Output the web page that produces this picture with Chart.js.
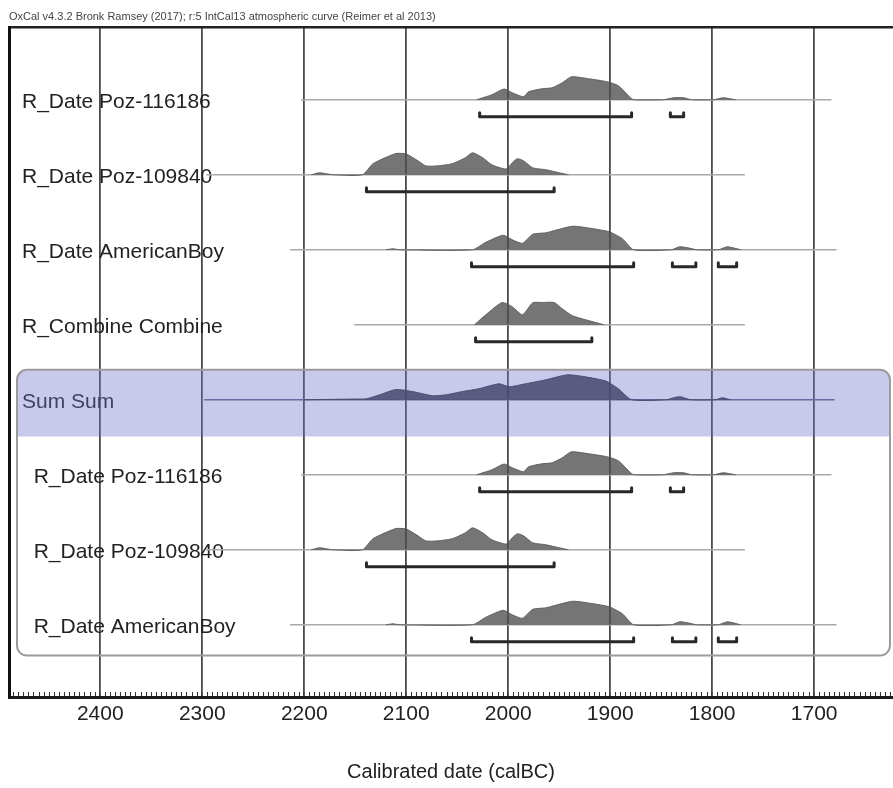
<!DOCTYPE html>
<html><head><meta charset="utf-8">
<script src="https://cdn.jsdelivr.net/npm/chart.js@4.4.0/dist/chart.umd.min.js"></script>
<style>html,body{margin:0;padding:0;background:#fff;overflow:hidden}#wrap{width:893px;height:788px}</style>
</head><body><div id="wrap"><canvas id="c" width="893" height="788"></canvas></div>
<script>
// ---------- text ----------
const headerText = 'OxCal v4.3.2 Bronk Ramsey (2017); r:5 IntCal13 atmospheric curve (Reimer et al 2013)';
const axisTitle = 'Calibrated date (calBC)';
const rowLabels = ['R_Date Poz-116186','R_Date Poz-109840','R_Date AmericanBoy','R_Combine Combine','Sum Sum','R_Date Poz-116186','R_Date Poz-109840','R_Date AmericanBoy'];
const rowInGroup = [false,false,false,false,false,true,true,true];
const tickYears = [2400,2300,2200,2100,2000,1900,1800,1700];

// ---------- data (years calBC, relative probability) ----------
const pozA_years = [2031,2016,2004,1996,1985,1980,1967,1957,1947,1938,1921,1903,1892,1880,1877,1848,1838,1828,1820,1799,1789,1777];
const pozA_prob  = [0,0.2,0.43,0.28,0.12,0.32,0.44,0.48,0.68,0.92,0.84,0.72,0.56,0.08,0,0,0.08,0.08,0,0,0.08,0];
const pozA_extent = [2203,1683];
const pozA_ranges = [[2028,1879],[1841,1828]];

const pozB_years = [2193,2185,2172,2143,2133,2123,2110,2100,2090,2081,2071,2055,2042,2035,2025,2016,2002,1996,1991,1985,1976,1963,1950,1941];
const pozB_prob  = [0,0.08,0,0,0.43,0.64,0.85,0.83,0.6,0.36,0.35,0.44,0.68,0.88,0.68,0.4,0.23,0.48,0.64,0.56,0.28,0.2,0.08,0];
const pozB_extent = [2296,1768];
const pozB_ranges = [[2139,1955]];

const amb_years = [2120,2113,2107,2035,2022,2005,1996,1986,1976,1963,1937,1918,1901,1888,1877,1840,1832,1824,1815,1794,1785,1772];
const amb_prob  = [0,0.04,0,0,0.3,0.58,0.4,0.26,0.62,0.68,0.94,0.85,0.72,0.44,0,0,0.12,0.08,0,0,0.12,0];
const amb_extent = [2214,1678];
const amb_ranges = [[2036,1877],[1839,1816],[1794,1776]];

const comb_years = [2033,2022,2006,1996,1986,1976,1967,1955,1947,1937,1924,1906];
const comb_prob  = [0,0.4,0.89,0.72,0.4,0.88,0.89,0.89,0.64,0.36,0.2,0];
const comb_extent = [2151,1768];
const comb_ranges = [[2032,1918]];

const sum_years = [2200,2150,2139,2126,2110,2094,2074,2061,2045,2029,2009,1999,1983,1963,1941,1905,1892,1879,1845,1836,1831,1821,1797,1790,1782];
const sum_prob  = [0,0.03,0.04,0.2,0.41,0.33,0.16,0.2,0.33,0.44,0.64,0.52,0.64,0.8,1.0,0.76,0.44,0,0,0.1,0.12,0,0,0.08,0];
const sum_extent = [2298,1680];
const sum_ranges = [];

const rowData = [
  [pozA_years,pozA_prob,pozA_extent,pozA_ranges],
  [pozB_years,pozB_prob,pozB_extent,pozB_ranges],
  [amb_years,amb_prob,amb_extent,amb_ranges],
  [comb_years,comb_prob,comb_extent,comb_ranges],
  [sum_years,sum_prob,sum_extent,sum_ranges],
  [pozA_years,pozA_prob,pozA_extent,pozA_ranges],
  [pozB_years,pozB_prob,pozB_extent,pozB_ranges],
  [amb_years,amb_prob,amb_extent,amb_ranges]
];
const SUM_ROW = 4;

// ---------- layout constants ----------
const X_OLD = 2489.5, X_NEW = 1622.7;
const Y_MAX = 8.933;
const BASE_OFF = 0.97, PEAK = 1/3, BAR = 0.227, CAP = 0.053;
const base = i => i + BASE_OFF;
const FONT = "'Liberation Sans',Arial,sans-serif";

const datasets = [];
rowData.forEach(([yrs, pr, ext, rng], i) => {
  const b = base(i);
  const isSum = i === SUM_ROW;
  datasets.push({
    data: [{x: ext[0], y: b}, {x: ext[1], y: b}],
    borderColor: isSum ? '#6a6aa0' : '#a9a9a9', borderWidth: 1.6,
    pointRadius: 0, fill: false, order: 3
  });
  datasets.push({
    data: yrs.map((y, k) => ({x: y, y: b - pr[k] * PEAK})),
    fill: {value: b},
    backgroundColor: isSum ? 'rgba(72,72,110,0.85)' : 'rgba(78,78,78,0.78)',
    borderColor: isSum ? 'rgba(72,72,110,0.9)' : 'rgba(90,90,90,0.9)',
    borderWidth: 1, pointRadius: 0, tension: 0.2, order: 2
  });
  if (rng.length) {
    const d = [];
    rng.forEach(([a, c]) => {
      d.push({x: a, y: b + BAR - CAP}, {x: a, y: b + BAR}, {x: c, y: b + BAR}, {x: c, y: b + BAR - CAP}, {x: c, y: null});
    });
    datasets.push({
      data: d, borderColor: '#282828', borderWidth: 3, pointRadius: 0,
      spanGaps: false, tension: 0, fill: false,
      borderCapStyle: 'round', borderJoinStyle: 'round', order: 1
    });
  }
});

const isMajor = v => tickYears.includes(Math.round(v)) && Math.abs(v - Math.round(v)) < 1e-6;

const groupBox = {
  id: 'groupBox',
  beforeDatasetsDraw(chart) {
    const {ctx, chartArea: a, scales: {y}} = chart;
    const top = y.getPixelForValue(base(SUM_ROW) - 0.4);
    const hdr = y.getPixelForValue(base(SUM_ROW) + 0.49);
    const bot = y.getPixelForValue(base(7) + 0.41);
    const l = a.left + 8, r = a.right - 3;
    ctx.save();
    ctx.fillStyle = 'rgba(112,112,205,0.38)';
    ctx.beginPath(); ctx.roundRect(l, top, r - l, hdr - top, [10, 10, 0, 0]); ctx.fill();
    ctx.strokeStyle = '#9c9c9c'; ctx.lineWidth = 2;
    ctx.beginPath(); ctx.roundRect(l, top, r - l, bot - top, 10); ctx.stroke();
    ctx.restore();
  }
};

const noSidePad = s => { s.paddingLeft = 0; s.paddingRight = 0; };

new Chart(document.getElementById('c'), {
  type: 'line',
  data: {datasets},
  plugins: [groupBox],
  options: {
    responsive: false, animation: false, devicePixelRatio: 1,
    layout: {padding: {left: 9, right: 0, top: 0, bottom: 0}},
    plugins: {legend: {display: false}, tooltip: {enabled: false}, title: {display: false}},
    scales: {
      x: {
        type: 'linear', position: 'bottom', reverse: true, min: X_NEW, max: X_OLD,
        afterFit(s) { s.height = 91; noSidePad(s); },
        ticks: {
          stepSize: 5, autoSkip: false, includeBounds: false, maxRotation: 0, minRotation: 0,
          padding: 10, color: '#222', font: {family: FONT, size: 21},
          callback: v => isMajor(v) ? String(Math.round(v)) : ''
        },
        grid: {
          color: c => isMajor(c.tick.value) ? '#4a4a4a' : 'rgba(0,0,0,0)',
          lineWidth: c => isMajor(c.tick.value) ? 1.8 : 1,
          tickColor: '#333', tickLength: -5, tickWidth: 1
        },
        border: {display: true, color: '#1a1a1a', width: 3},
        title: {display: true, text: axisTitle, color: '#222', font: {family: FONT, size: 20}, padding: {top: 0, bottom: 4}}
      },
      x2: {
        type: 'linear', position: 'top', min: X_NEW, max: X_OLD,
        afterFit(s) { s.height = 27; noSidePad(s); },
        ticks: {display: false},
        grid: {display: false, drawTicks: false},
        border: {display: true, color: '#222', width: 2.5},
        title: {display: true, text: headerText, align: 'start', color: '#444', font: {family: FONT, size: 11}, padding: {top: 10, bottom: 0}}
      },
      y: {
        type: 'linear', position: 'left', reverse: true, min: 0, max: Y_MAX,
        afterFit(s) { s.width = 0; s.paddingTop = 0; s.paddingBottom = 0; },
        afterBuildTicks(s) { s.ticks = rowLabels.map((_, i) => ({value: i + 1})); },
        ticks: {
          mirror: true, padding: 13, color: '#222', font: {family: FONT, size: 21},
          callback: (v, i) => (rowInGroup[i] ? '  ' : '') + rowLabels[i]
        },
        grid: {display: false, drawTicks: false},
        border: {display: true, color: '#111', width: 3}
      }
    }
  }
});
</script></body></html>
